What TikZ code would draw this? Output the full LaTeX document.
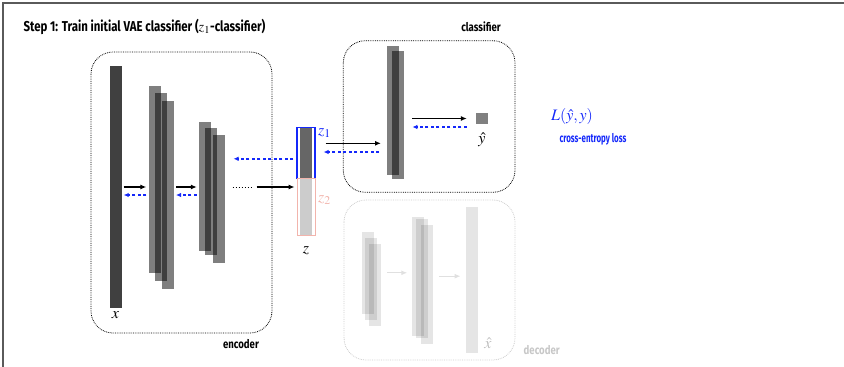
\documentclass[tikz,border=0pt]{standalone}
\usepackage{amsmath}
\usepackage{mathptmx}
\usepackage{fontspec}
\usepackage{tikz}
\usetikzlibrary{arrows.meta}
\newfontfamily\condfont[FakeStretch=0.8]{Fira Sans}
\newfontfamily\narrowfont[FakeStretch=0.66]{Fira Sans}
\definecolor{zpink}{RGB}{242,180,172}
\definecolor{frame}{RGB}{90,90,90}
\definecolor{gradblue}{RGB}{20,40,250}

\begin{document}
\begin{tikzpicture}[x=1pt,y=-1pt,>={Latex[length=6pt,width=5pt]}]
  \tikzset{
    layer/.style={fill=black,fill opacity=0.5,inner sep=0,minimum width=12},
    faint/.style={fill=black,fill opacity=0.1,inner sep=0,minimum width=12},
    module/.style={densely dotted,line width=0.8,rounded corners=22},
    fwd/.style={->,line width=1.2,shorten <=2,shorten >=2},
    bwd/.style={-{Latex[length=5pt,width=4.5pt]},line width=1.4,gradblue,dash pattern=on 3pt off 2.5pt,shorten <=2,shorten >=2},
    caption/.style={font=\condfont\bfseries\fontsize{12}{14}\selectfont},
    sym/.style={font=\fontsize{16}{18}\selectfont}
  }
  \useasboundingbox (0,0) rectangle (844,367);
  \draw[frame,line width=1.5] (3,367) -- (3,3) -- (844,3);
  \node[caption,font=\condfont\bfseries\fontsize{14.3}{16}\selectfont,anchor=west] (title) at (20,27) {Step 1: Train initial VAE classifier ($z_1$-classifier)};

  % encoder
  \draw[module] (91,52) rectangle (272,333);
  \node[caption] (enclabel) at (241,344) {encoder};
  \node[layer,minimum height=242,fill opacity=0.75] (enc0) at (115.5,187) {};
  \node[layer,minimum height=187] (enc1a) at (154.5,179.5) {};
  \node[layer,minimum height=188] (enc1b) at (160.5,187) {};
  \node[layer,minimum height=188] (enc1c) at (167.8,195) {};
  \node[layer,minimum height=129] (enc2a) at (205,186.5) {};
  \node[layer,minimum height=127] (enc2b) at (211,191.3) {};
  \node[layer,minimum height=128] (enc2c) at (219.3,199) {};
  \node[sym,anchor=north] (xlabel) at (enc0.south) {$x$};
  \draw[fwd] (enc0.east) -- (enc0.east -| enc1a.west);
  \draw[bwd] ([yshift=-8]enc0.east -| enc1a.west) -- ([yshift=-8]enc0.east);
  \draw[fwd] (enc1c.east |- enc0.east) -- (enc0.east -| enc2a.west);
  \draw[bwd] ([yshift=-8]enc0.east -| enc2a.west) -- ([yshift=-8]enc1c.east |- enc0.east);
  \coordinate (dots) at ([xshift=7]enc2c.east |- enc0.east);
  \draw[dotted,line width=1] (dots) -- ++(19,0) coordinate (dotsend);

  % latent z
  \node[fill=black!60,inner sep=0,minimum width=12,minimum height=50] (zbar1) at (306,152.8) {};
  \node[draw=gradblue,line width=1.2,inner sep=0,minimum width=18,minimum height=51] (zbox1) at (306,152.8) {};
  \node[fill=black!20,inner sep=0,minimum width=12,minimum height=56] (zbar2) at (306,207) {};
  \node[draw=zpink,line width=0.8,inner sep=0,minimum width=18,minimum height=57] (zbox2) at (306,207) {};
  \node[sym,gradblue,anchor=west,inner sep=1] (z1label) at (317,133) {$z_1$};
  \node[sym,zpink,anchor=west,inner sep=1] (z2label) at (317,200) {$z_2$};
  \node[sym] (zlabel) at (306,251) {$z$};
  \draw[fwd,shorten <=5] (dotsend) -- (dotsend -| zbox2.west);
  \draw[bwd,shorten <=3,shorten >=8] ([yshift=-6]zbox1.west) -- ([yshift=-6]zbox1.west -| enc2c.east);

  % classifier
  \draw[module] (343.3,40.7) rectangle (515,192.3);
  \node[caption] (clslabel) at (481,27) {classifier};
  \node[layer,minimum height=129] (cls1a) at (393.2,110.5) {};
  \node[layer,minimum height=128.6] (cls1b) at (398.2,115) {};
  \node[fill=black!50,inner sep=0,minimum size=11.6] (yhat) at (481.8,118.5) {};
  \node[sym] (yhatlabel) at (482,140) {$\hat{y}$};
  \draw[fwd,shorten <=10,shorten >=6] ([yshift=9.5]zbox1.east) -- ([yshift=9.5]zbox1.east -| cls1a.west);
  \draw[bwd,shorten <=8,shorten >=8] ([yshift=0.8]zbox1.east -| cls1a.west) -- ([yshift=0.8]zbox1.east);
  \draw[fwd,shorten <=8,shorten >=9] (cls1b.east |- yhat.west) -- (yhat.west);
  \draw[bwd,shorten <=9,shorten >=8] ([yshift=-8.5]yhat.west) -- ([yshift=-8.5]cls1b.east |- yhat.west);
  \node[sym,gradblue,inner sep=1] (loss) at (572,116) {$L(\hat{y},y)$};
  \node[caption,font=\narrowfont\bfseries\fontsize{12}{14}\selectfont,gradblue,inner sep=1] (losslabel) at (593,139) {cross-entropy loss};

  % decoder
  \draw[module,black!20] (344,200) rectangle (515,360);
  \node[caption,black!22] (declabel) at (541.7,350) {decoder};
  \node[faint,minimum height=82.3] (dec0a) at (367.5,272.8) {};
  \node[faint,minimum height=82.3] (dec0b) at (370.5,278.8) {};
  \node[faint,minimum height=82] (dec0c) at (374.8,285) {};
  \node[faint,minimum height=119] (dec1a) at (417.5,276.2) {};
  \node[faint,minimum height=118.4] (dec1b) at (421.5,278.5) {};
  \node[faint,minimum height=119] (dec1c) at (426.8,284.5) {};
  \node[faint,minimum height=146] (dec2) at (471.8,280.3) {};
  \node[sym,black!25,inner sep=1] (xhatlabel) at (488,343) {$\hat{x}$};
  \draw[fwd,black!12,shorten <=6,shorten >=4] (dec0c.east |- dec0a.east) -- (dec0a.east -| dec1a.west);
  \draw[fwd,black!12,shorten <=6,shorten >=5] (dec1c.east |- dec1a.east) -- (dec1a.east -| dec2.west);
\end{tikzpicture}
\end{document}
